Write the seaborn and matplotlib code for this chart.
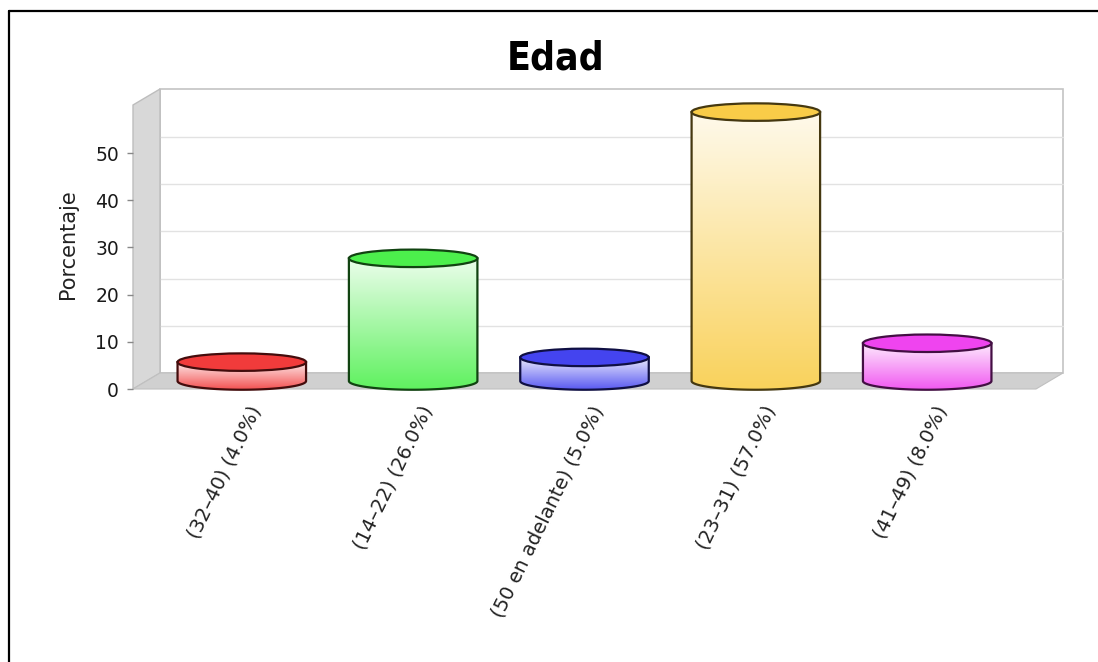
import numpy as np
import pandas as pd
import matplotlib
matplotlib.use("Agg")
import matplotlib.pyplot as plt
from matplotlib.patches import Ellipse, Polygon
from matplotlib.lines import Line2D
from matplotlib.colors import to_rgb
from matplotlib.transforms import ScaledTranslation
import seaborn as sns

# ---- data ----
categories = ["(32–40)", "(14–22)", "(50 en adelante)", "(23–31)", "(41–49)"]
percentages = [4.0, 26.0, 5.0, 57.0, 8.0]
bar_colors = ["#f02a2a", "#3cee3c", "#3434ee", "#f8c838", "#ee34ee"]
y_ticks = [0, 10, 20, 30, 40, 50]
title_text = "Edad"
y_label = "Porcentaje"

tick_labels = [f"{c} ({v:.1f}%)" for c, v in zip(categories, percentages)]

# ---- figure ----
W, H, DPI = 1098, 662, 100
sns.set_theme(style="white")
plt.rcParams["font.family"] = ["DejaVu Sans"]

fig = plt.figure(figsize=(W / DPI, H / DPI), dpi=DPI)
fig.patch.set_facecolor("white")

# front plane of the pseudo-3D plot area (pixel box)
L, R, B, T = 133, 1036, 389, 105
ax = fig.add_axes([L / W, 1 - B / H, (R - L) / W, (B - T) / H])
XMIN, XMAX = -0.635, 4.635
YMAX = 60.2

df = pd.DataFrame({"cat": tick_labels, "pct": percentages})
sns.barplot(data=df, x="cat", y="pct", hue="cat", palette=bar_colors,
            width=0.75, ax=ax, legend=False, saturation=1)
bars = sorted(ax.patches, key=lambda b: b.get_x())

px_x = (R - L) / (XMAX - XMIN)
px_y = (B - T) / YMAX
DX = 27 / px_x          # depth offset in data units
DY = 16 / px_y
EH = 17.5 / px_y        # ellipse height
EO = 8.0 / px_y         # ellipse centre lift


def mix(c, other, t):
    c = np.array(to_rgb(c)); o = np.array(to_rgb(other))
    return tuple(c * (1 - t) + o * t)


# walls and floor
back = Polygon([(XMIN + DX, DY), (XMAX + DX, DY), (XMAX + DX, YMAX + DY), (XMIN + DX, YMAX + DY)],
               closed=True, facecolor="white", edgecolor="#c4c4c4", lw=1.2,
               clip_on=False, zorder=0.2)
side = Polygon([(XMIN, 0), (XMIN + DX, DY), (XMIN + DX, YMAX + DY), (XMIN, YMAX)],
               closed=True, facecolor="#d8d8d8", edgecolor="#bdbdbd", lw=1.0,
               clip_on=False, zorder=0.3)
floor = Polygon([(XMIN, 0), (XMAX, 0), (XMAX + DX, DY), (XMIN + DX, DY)],
                closed=True, facecolor="#d0d0d0", edgecolor="#c0c0c0", lw=0.8,
                clip_on=False, zorder=0.3)
for p in (back, side, floor):
    ax.add_patch(p)

for t in y_ticks:
    if t == 0:
        continue
    ax.plot([XMIN + DX, XMAX + DX], [t + DY, t + DY], color="#e2e2e2", lw=1.0,
            zorder=0.25, clip_on=False)

# cylinders built from the seaborn bar geometry
for bar, col in zip(bars, bar_colors):
    bar.set_visible(False)
    x0, w, h = bar.get_x(), bar.get_width(), bar.get_height()
    xc = x0 + w / 2
    edge = mix(col, "black", 0.72)
    th = np.linspace(np.pi, 2 * np.pi, 60)
    bottom = np.column_stack([xc + w / 2 * np.cos(th), EO + EH / 2 * np.sin(th)])
    pts = np.vstack([[x0, h + EO], bottom, [x0 + w, h + EO]])
    body = Polygon(pts, closed=True, facecolor="none", edgecolor=edge, lw=1.6,
                   zorder=3, clip_on=False)
    ax.add_patch(body)
    n = 128
    top_c = np.array(mix(col, "white", 0.9))
    bot_c = np.array(mix(col, "white", 0.18))
    grad = np.linspace(0, 1, n)[:, None] * (bot_c - top_c) + top_c
    img = ax.imshow(grad[:, None, :], extent=[x0, x0 + w, EO - EH / 2, h + EO],
                    aspect="auto", origin="upper", zorder=2.5, interpolation="bilinear")
    img.set_clip_path(body)
    cap = Ellipse((xc, h + EO), w, EH, facecolor=mix(col, "white", 0.08),
                  edgecolor=edge, lw=1.6, zorder=4, clip_on=False)
    ax.add_patch(cap)

ax.set_xlim(XMIN, XMAX)
ax.set_ylim(0, YMAX)
ax.patch.set_visible(False)
for s in ax.spines.values():
    s.set_visible(False)

ax.set_yticks(y_ticks)
ax.set_yticklabels([str(t) for t in y_ticks], fontsize=13.5, color="#1a1a1a")
ax.tick_params(axis="y", left=True, length=4, width=1, color="#888888", pad=6)
ax.tick_params(axis="x", bottom=False, length=0, pad=13)

ax.set_xticks(range(len(tick_labels)))
ax.set_xticklabels(tick_labels, rotation=64, ha="right", va="center",
                   rotation_mode="anchor", fontsize=14, color="#222222")
shift = ScaledTranslation(15 / DPI, 0, fig.dpi_scale_trans)
for lab in ax.get_xticklabels():
    lab.set_transform(lab.get_transform() + shift)

ax.set_xlabel("")
ax.set_ylabel(y_label, fontsize=15, color="#222222")
ax.yaxis.set_label_coords((78 - L) / (R - L), 0.51)

fig.text(556 / W, 1 - 58 / H, title_text, ha="center", va="center",
         fontsize=28, fontweight="bold", fontstretch="condensed", color="black")

# outer frame (top and left edges)
fig.add_artist(Line2D([8.5 / W, 8.5 / W], [0, 1 - 10.5 / H], color="black", lw=1.6,
                      transform=fig.transFigure))
fig.add_artist(Line2D([8.5 / W, 1], [1 - 10.5 / H, 1 - 10.5 / H], color="black", lw=1.6,
                      transform=fig.transFigure))

fig.savefig("out.png", dpi=DPI, facecolor="white")
